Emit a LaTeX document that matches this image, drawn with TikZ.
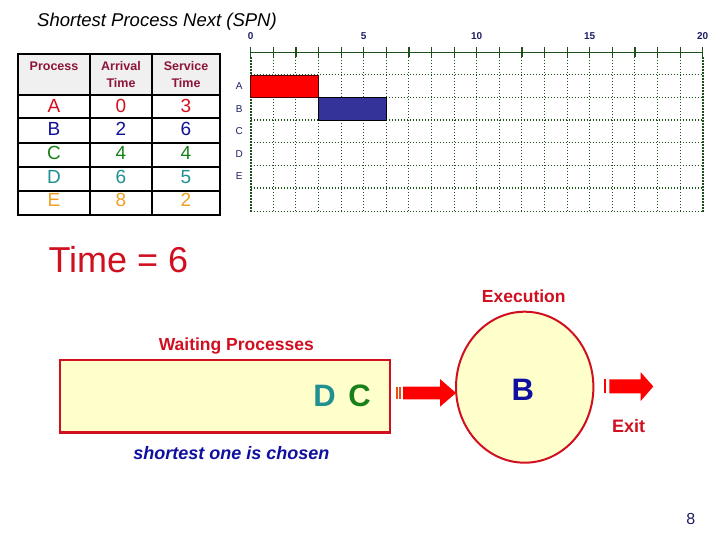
\documentclass[tikz,border=0pt]{standalone}
\usepackage{fontspec}
\setmainfont{Liberation Sans}
\usetikzlibrary{shapes.geometric}
\definecolor{redtxt}{RGB}{208,16,32}
\definecolor{maroon}{RGB}{140,20,56}
\definecolor{bluetxt}{RGB}{16,16,160}
\definecolor{pA}{RGB}{212,16,32}
\definecolor{pB}{RGB}{16,16,150}
\definecolor{pC}{RGB}{24,128,24}
\definecolor{pD}{RGB}{32,144,144}
\definecolor{pE}{RGB}{240,160,32}
\definecolor{navy}{RGB}{30,30,100}
\definecolor{gridgreen}{RGB}{30,80,30}
\definecolor{paleyellow}{RGB}{255,255,204}
\definecolor{hdrgray}{RGB}{240,240,240}
\definecolor{barblue}{RGB}{51,51,153}
\definecolor{stripe}{RGB}{230,80,20}
\begin{document}
\begin{tikzpicture}[x=1pt,y=-1pt,
  txt/.style={inner sep=0pt,anchor=base},
  hdr/.style={txt,font=\fontsize{12.5}{14}\selectfont\bfseries,text=maroon},
  cell/.style={txt,font=\fontsize{19}{22}\selectfont},
  axlab/.style={txt,font=\fontsize{10}{11}\selectfont\bfseries,text=navy},
  rowlab/.style={inner sep=0pt,anchor=center,font=\fontsize{10}{11}\selectfont,text=navy},
  thingrid/.style={gridgreen,line width=1pt,dash pattern=on 1.4pt off 1.6pt},
  thickgrid/.style={gridgreen,line width=1.7pt,dash pattern=on 1.6pt off 1.4pt},
  redlabel/.style={txt,font=\fontsize{17.5}{20}\selectfont\bfseries,text=redtxt},
  bigletter/.style={txt,font=\fontsize{31}{34}\selectfont\bfseries},
  blockarrow/.style={fill=red,draw=none}
]
\useasboundingbox (0,0) rectangle (720,540);
\fill[white] (0,0) rectangle (720,540);

% Title
\node[txt,anchor=base west,font=\fontsize{18.5}{22}\selectfont\itshape] (title) at (37,26.7) {Shortest Process Next (SPN)};

% Table
\fill[hdrgray] (18,54) rectangle (220,95);
\draw[line width=1.8pt] (18,54) rectangle (220,215);
\foreach \y in {95,118,143,167,191} \draw[line width=1.8pt] (18,\y) -- (220,\y);
\draw[line width=1.8pt] (90,54) -- (90,215);
\draw[line width=1.8pt] (152,54) -- (152,215);
\node[hdr] (hproc) at (54,71) {Process};
\node[hdr] (harr1) at (121,71) {Arrival};
\node[hdr] (harr2) at (121,87.3) {Time};
\node[hdr] (hsrv1) at (186,71) {Service};
\node[hdr] (hsrv2) at (186,87.3) {Time};
\foreach \n/\a/\s/\c/\b in {A/0/3/pA/112.7,B/2/6/pB/136,C/4/4/pC/159.6,D/6/5/pD/183.5,E/8/2/pE/207}{
  \node[cell,text=\c] (p\n) at (54,\b) {\n};
  \node[cell,text=\c] (a\n) at (121,\b) {\a};
  \node[cell,text=\c] (s\n) at (186,\b) {\s};
}

% Gantt chart
\foreach \i in {1,...,19} \draw[thingrid] (250.7+22.6*\i,57) -- (250.7+22.6*\i,212);
\draw[thickgrid] (250.7,57) -- (250.7,212);
\draw[thickgrid] (702.7,57) -- (702.7,212);
\draw[thingrid] (250.7,75) -- (702.7,75);
\draw[thingrid] (250.7,142.6) -- (702.7,142.6);
\draw[thingrid] (250.7,165.2) -- (702.7,165.2);
\draw[thickgrid] (250.7,97.5) -- (702.7,97.5);
\draw[thickgrid] (250.7,120) -- (702.7,120);
\draw[thickgrid] (250.7,187.8) -- (702.7,187.8);
\draw[thickgrid] (250.7,211.5) -- (702.7,211.5);
\draw[gridgreen,line width=1.4pt] (250.7,52.7) -- (702.7,52.7);
\foreach \i in {0,...,20} \draw[gridgreen,line width=1.2pt] (250.7+22.6*\i,47.5) -- (250.7+22.6*\i,57);
\foreach \v in {0,5,10,15,20} \node[axlab] (ax\v) at (250.7+22.6*\v,39.3) {\v};
\foreach \n/\y in {A/86.2,B/108.7,C/131.3,D/153.8,E/176.3} \node[rowlab] (r\n) at (239.3,\y) {\n};
\draw[fill=red,draw=black!70!red,line width=0.8pt] (250.7,75) rectangle (318.5,97.5);
\draw[fill=barblue,draw=black,line width=0.8pt] (318.5,97.5) rectangle (386.3,120);

% Time
\node[txt,anchor=base west,font=\fontsize{36}{40}\selectfont,text=redtxt] (time) at (48.3,272.7) {Time = 6};

% Queue and execution
\node[redlabel] (exlab) at (523.8,302.7) {Execution};
\node[redlabel] (wlab) at (236.3,350.7) {Waiting Processes};
\node[draw=redtxt,fill=paleyellow,line width=2.7pt,minimum width=330pt,minimum height=72.7pt,inner sep=0pt] (queue) at (225,396.35) {};
\node[bigletter,text=pD] (qD) at (324.6,406.7) {D};
\node[bigletter,text=pC] (qC) at (359.6,406.7) {C};
\node[ellipse,draw=redtxt,fill=paleyellow,line width=2pt,minimum width=137.4pt,minimum height=151pt,inner sep=0pt] (exec) at (524.7,387.2) {};
\node[bigletter,text=bluetxt] (pBx) at (522.7,400.7) {B};
\node[txt,font=\fontsize{18}{21}\selectfont\bfseries\itshape,text=bluetxt] (chosen) at (231.3,459.3) {shortest one is chosen};
\node[redlabel,font=\fontsize{18}{21}\selectfont\bfseries] (exit) at (628.7,432.7) {Exit};

% Block arrows
\fill[stripe] (395.7,386.7) rectangle (397.5,399.3);
\fill[stripe] (399.2,386.7) rectangle (401.2,399.3);
\fill[blockarrow] (403,386.7) -- (440,386.7) -- (440,379) -- (456,393) -- (440,406.7) -- (440,399.3) -- (403,399.3) -- cycle;
\fill[red] (604,379.3) rectangle (606.3,393.3);
\fill[blockarrow] (609.3,379.3) -- (640.7,379.3) -- (640.7,372.3) -- (653.3,386.5) -- (640.7,401) -- (640.7,393.3) -- (609.3,393.3) -- cycle;

% Page number
\node[txt,font=\fontsize{16}{18}\selectfont,text=navy] (pageno) at (690.8,524) {8};
\end{tikzpicture}
\end{document}
